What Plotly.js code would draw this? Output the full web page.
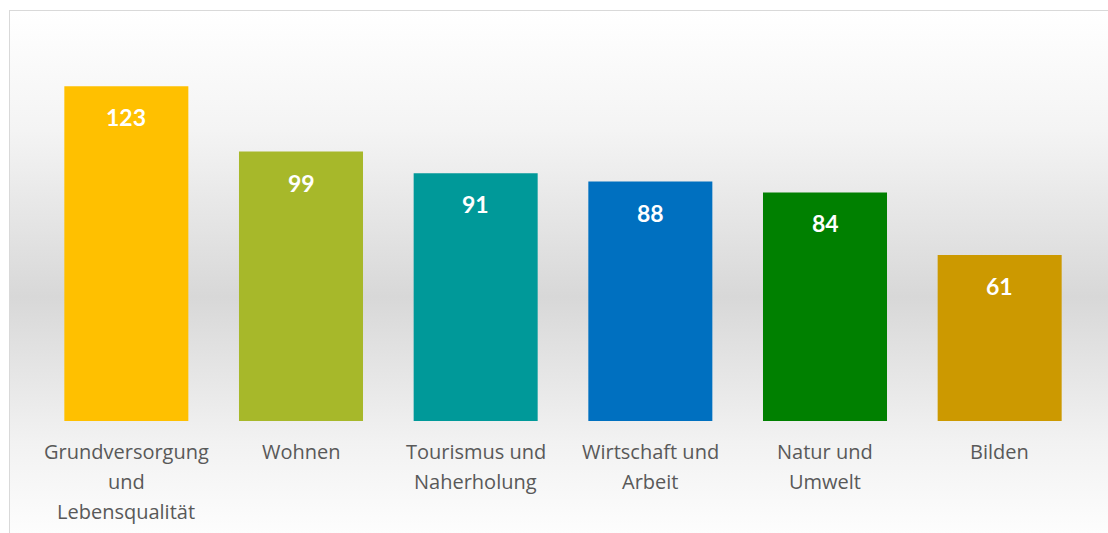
<!DOCTYPE html>
<html>
<head>
<meta charset="utf-8">
<script src="https://cdn.plot.ly/plotly-3.0.1.min.js"></script>
<style>
  html, body { margin: 0; padding: 0; background: #ffffff; width: 1108px; height: 533px; overflow: hidden; }
  #bg {
    position: absolute; left: 9px; top: 10px; width: 1120px; height: 540px;
    border-left: 1.5px solid #d9d9d9; border-top: 1.5px solid #d9d9d9;
    background: linear-gradient(to bottom, #ffffff 0%, #f4f4f4 22%, #d8d8d8 53%, #f2f2f2 80%, #ffffff 100%);
  }
  #chart { position: absolute; left: 0; top: 0; width: 1108px; height: 533px; }
</style>
</head>
<body>
<div id="bg"></div>
<div id="chart"></div>
<script>
const categories = [
  "Grundversorgung und Lebensqualität",
  "Wohnen",
  "Tourismus und Naherholung",
  "Wirtschaft und Arbeit",
  "Natur und Umwelt",
  "Bilden"
];
// tick label lines as wrapped in the original chart
const tickLabels = [
  ["Grundversorgung", "und", "Lebensqualität"],
  ["Wohnen"],
  ["Tourismus und", "Naherholung"],
  ["Wirtschaft und", "Arbeit"],
  ["Natur und", "Umwelt"],
  ["Bilden"]
];
const values = [123, 99, 91, 88, 84, 61];
const barColors = ["#FFC000", "#A7B82A", "#009999", "#0070C0", "#008000", "#CC9900"];

const trace = {
  type: "bar",
  x: categories,
  y: values,
  marker: { color: barColors, line: { width: 0 } },
  hoverinfo: "none"
};

const annotations = values.map((v, i) => ({
  x: categories[i],
  y: v,
  xref: "x",
  yref: "y",
  text: String(v),
  showarrow: false,
  yanchor: "top",
  yshift: -15,
  font: { family: "Lato, 'Open Sans', sans-serif", size: 23, color: "#ffffff", weight: "bold" }
}));

tickLabels.forEach((lines, i) => {
  lines.forEach((line, k) => {
    annotations.push({
      x: categories[i],
      y: 0,
      xref: "x",
      yref: "y",
      text: line,
      showarrow: false,
      yanchor: "middle",
      yshift: -(30 + k * 30),
      font: { family: "'Open Sans', sans-serif", size: 20, color: "#595959" }
    });
  });
});

const layout = {
  width: 1108,
  height: 533,
  margin: { l: 39, r: 21, t: 40, b: 112 },
  paper_bgcolor: "rgba(0,0,0,0)",
  plot_bgcolor: "rgba(0,0,0,0)",
  bargap: 0.29,
  showlegend: false,
  xaxis: {
    type: "category",
    showgrid: false,
    zeroline: false,
    showline: false,
    ticks: "",
    showticklabels: false
  },
  yaxis: {
    range: [0, 140],
    visible: false,
    showgrid: false,
    zeroline: false
  },
  annotations: annotations
};

Plotly.newPlot("chart", [trace], layout, { displayModeBar: false, staticPlot: true });
</script>
</body>
</html>
